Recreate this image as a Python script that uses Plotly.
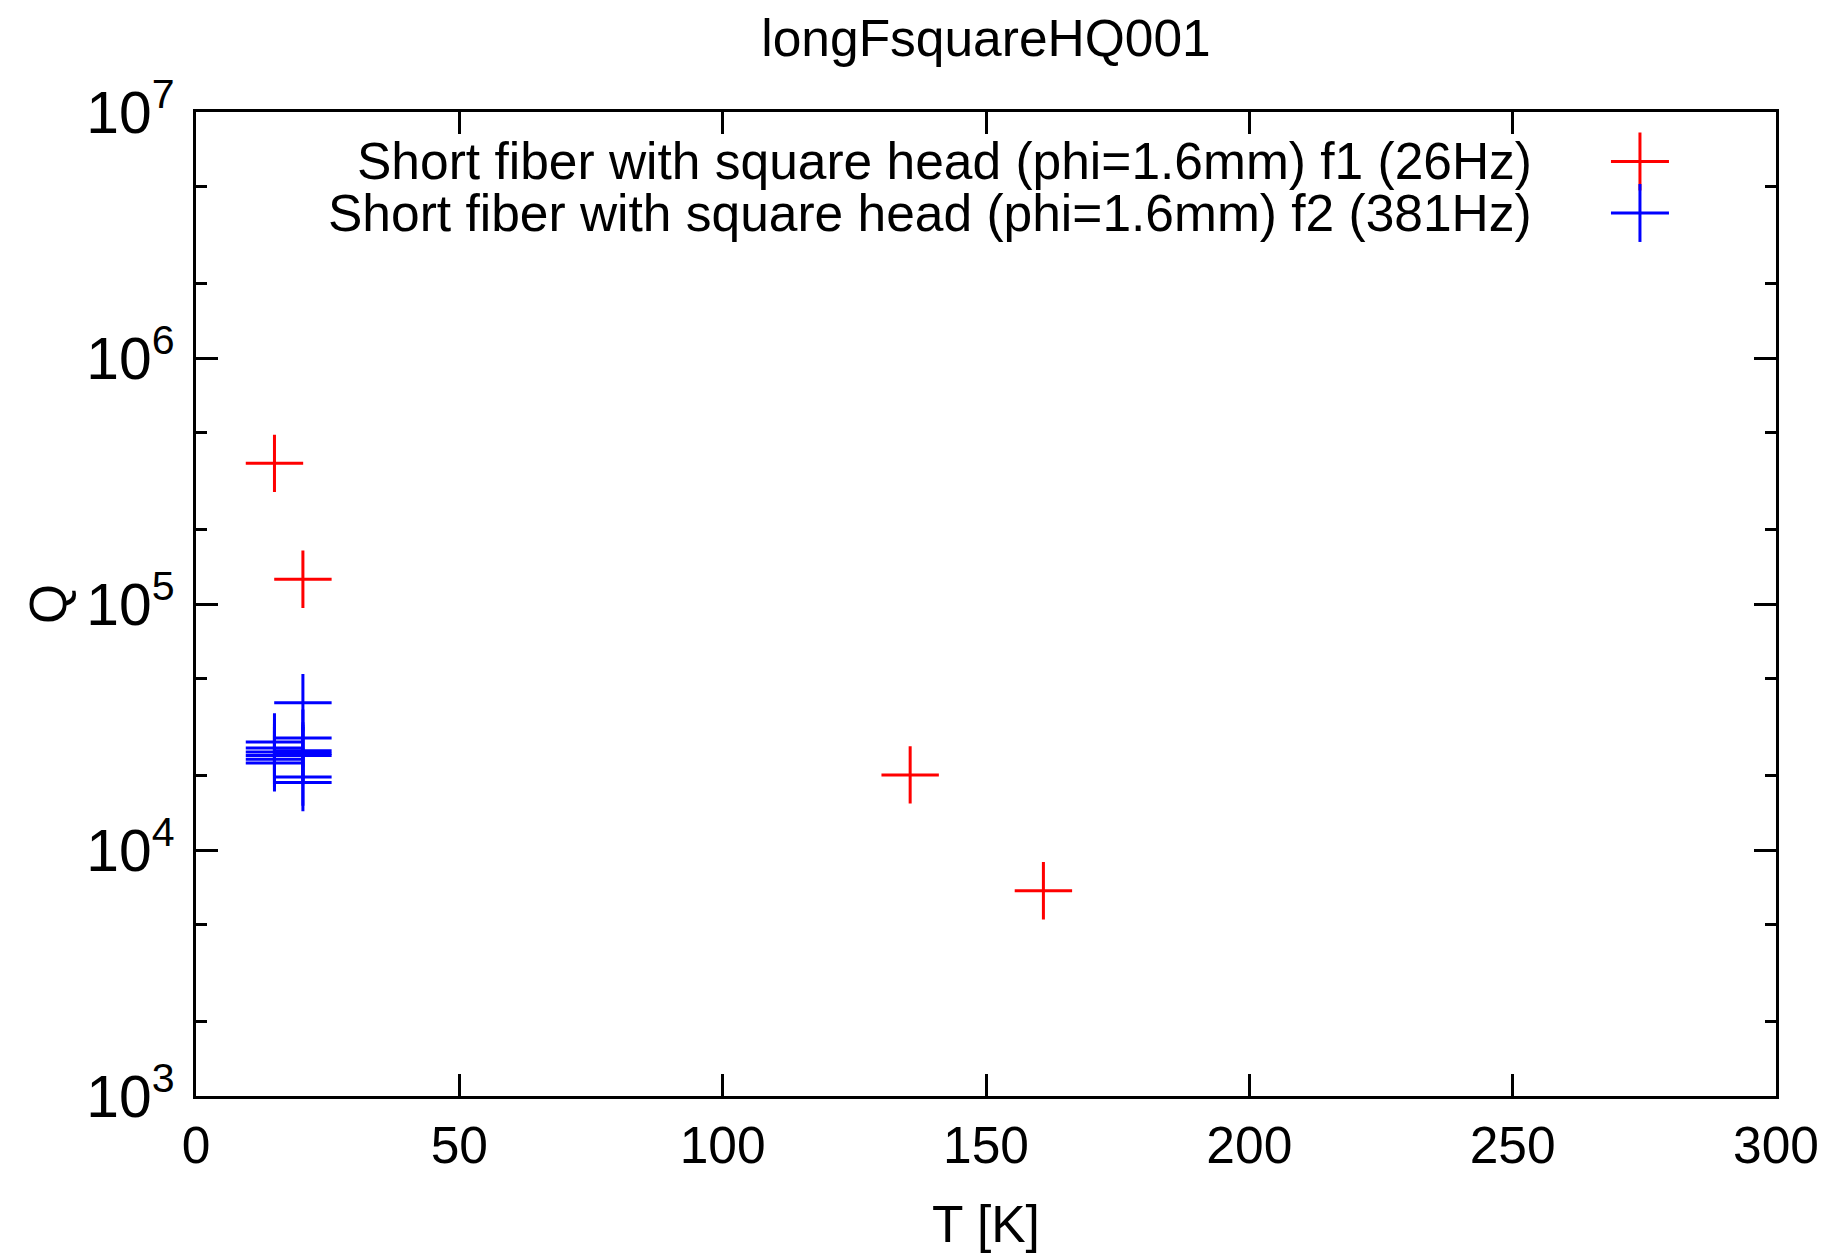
import plotly.graph_objects as go

# ---- data ----
f1_T = [14.9, 20.3, 135.6, 160.9]
f1_Q = [3.73e5, 1.26e5, 2.02e4, 6.83e3]

f2_T = [14.9, 14.9, 14.9, 14.9, 14.9, 14.9,
        20.3, 20.3, 20.3, 20.3, 20.3, 20.3, 20.3]
f2_Q = [2.75e4, 2.60e4, 2.50e4, 2.42e4, 2.34e4, 2.26e4,
        3.97e4, 2.85e4, 2.53e4, 2.47e4, 2.42e4, 1.98e4, 1.88e4]

series_names = [
    "Short fiber with square head (phi=1.6mm) f1 (26Hz)",
    "Short fiber with square head (phi=1.6mm) f2 (381Hz)",
]
series_colors = ["#ff0000", "#0000ff"]

title_text = "longFsquareHQ001"
x_title = "T [K]"
y_title = "Q"
x_range = [0, 300]
y_range_log = [3, 7]

FONT = "Liberation Sans, Arial, Helvetica, sans-serif"
FS = 51.5
FS_Y = 47
MSIZE = 41

fig = go.Figure()
for xs, ys, name, col in [(f1_T, f1_Q, series_names[0], series_colors[0]),
                          (f2_T, f2_Q, series_names[1], series_colors[1])]:
    fig.add_trace(go.Scatter(
        x=xs, y=ys, mode="markers", name=name, showlegend=False,
        marker=dict(symbol="cross-thin", size=MSIZE, color=col,
                    line=dict(color=col, width=3)),
    ))

# manual gnuplot-style key: text on the left, sample on the right
key_text_x = 0.8465
key_sample_x = 0.9139
key_rows_y = [0.9497, 0.8974]
for name, col, yy in zip(series_names, series_colors, key_rows_y):
    fig.add_annotation(x=key_text_x, y=yy, xref="paper", yref="paper",
                       text=name, showarrow=False, xanchor="right",
                       yanchor="middle", borderpad=0,
                       font=dict(family=FONT, size=FS, color="black"))
    fig.add_shape(type="line", xref="paper", yref="paper",
                  xsizemode="pixel", ysizemode="pixel",
                  xanchor=key_sample_x, yanchor=yy,
                  x0=-29, x1=29, y0=0, y1=0, line=dict(color=col, width=3))
    fig.add_shape(type="line", xref="paper", yref="paper",
                  xsizemode="pixel", ysizemode="pixel",
                  xanchor=key_sample_x, yanchor=yy,
                  x0=0, x1=0, y0=-29, y1=29, line=dict(color=col, width=3))

axis_common = dict(
    showline=True, linecolor="black", linewidth=3, mirror="ticks",
    ticks="inside", ticklen=22, tickwidth=3, tickcolor="black",
    showgrid=False, zeroline=False, automargin=False,
)

fig.update_xaxes(range=x_range, dtick=50, tick0=0,
                 tickfont=dict(family=FONT, size=FS, color="black"),
                 title=dict(text=x_title, font=dict(family=FONT, size=FS, color="black"), standoff=35),
                 ticklabelstandoff=2, **axis_common)
fig.update_yaxes(type="log", range=y_range_log, dtick=1, exponentformat="power",
                 tickfont=dict(family=FONT, size=FS_Y, color="black"),
                 minor=dict(dtick="D2", ticks="inside", ticklen=11, tickwidth=3,
                            tickcolor="black", showgrid=False),
                 title=dict(text=y_title, font=dict(family=FONT, size=FS, color="black"), standoff=4),
                 ticklabelstandoff=9, **axis_common)

fig.update_layout(
    width=1848, height=1253,
    margin=dict(l=196, r=72, t=112, b=157, pad=0),
    paper_bgcolor="white", plot_bgcolor="white",
    title=dict(text=title_text, x=0.5, xref="paper", y=1 - 38 / 1253, yanchor="middle",
               font=dict(family=FONT, size=FS, color="black")),
    font=dict(family=FONT, size=FS, color="black"),
)

fig.write_html("out.html")
